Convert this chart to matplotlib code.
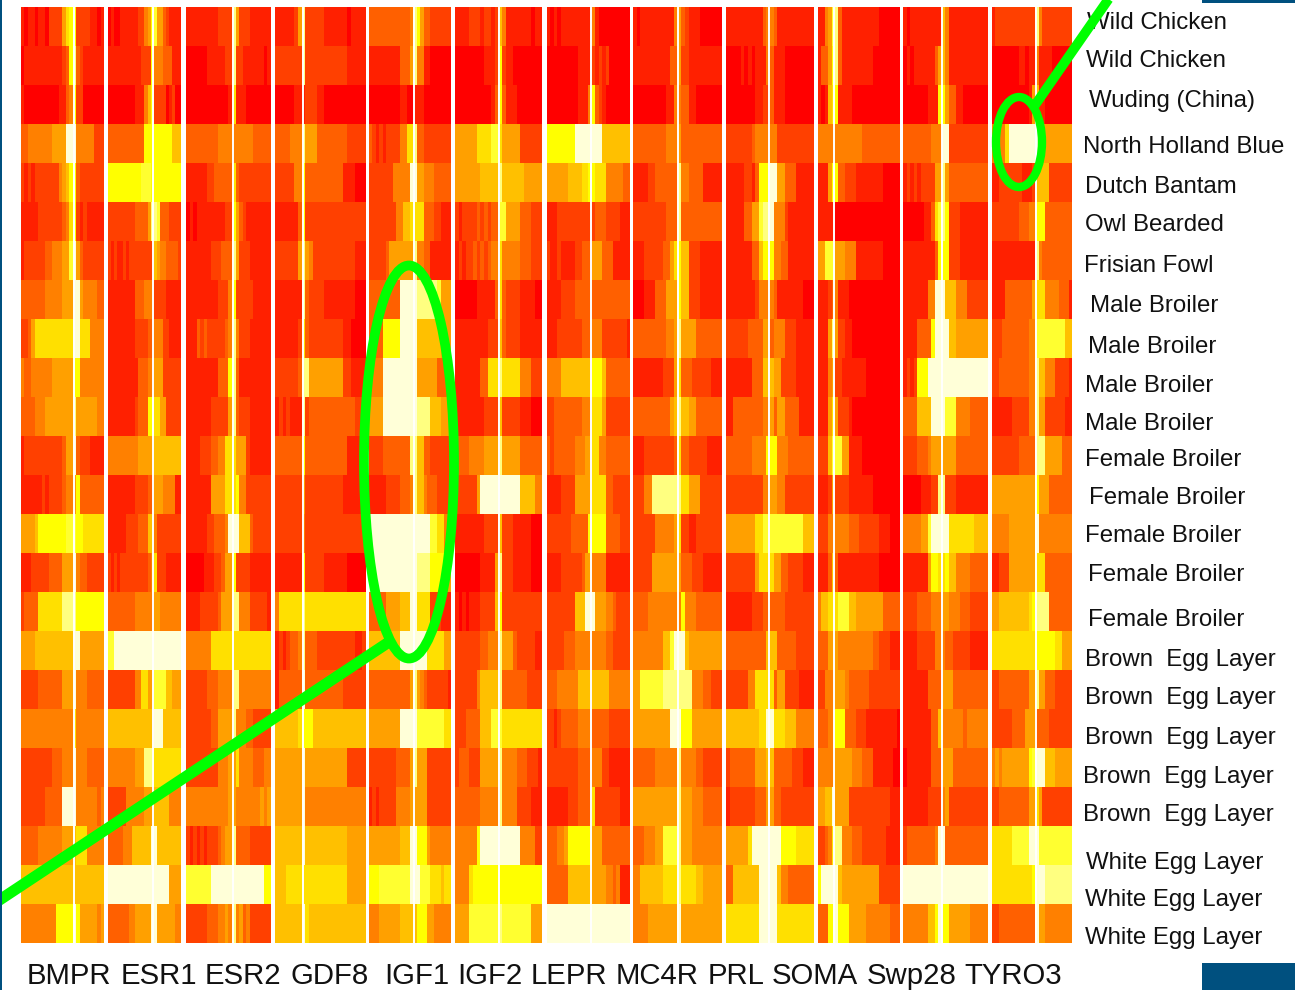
import numpy as np
import matplotlib
matplotlib.use("Agg")
import matplotlib.pyplot as plt
from matplotlib.colors import ListedColormap, BoundaryNorm
from matplotlib.patches import Ellipse, Rectangle

plt.rcParams['font.family'] = ['Liberation Sans', 'DejaVu Sans']

genes = ["BMPR", "ESR1", "ESR2", "GDF8", "IGF1", "IGF2", "LEPR", "MC4R", "PRL", "SOMA", "Swp28", "TYRO3"]
breeds = ["Wild Chicken", "Wild Chicken", "Wuding (China)", "North Holland Blue", "Dutch Bantam", "Owl Bearded",
          "Frisian Fowl", "Male Broiler", "Male Broiler", "Male Broiler", "Male Broiler", "Female Broiler",
          "Female Broiler", "Female Broiler", "Female Broiler", "Female Broiler", "Brown  Egg Layer",
          "Brown  Egg Layer", "Brown  Egg Layer", "Brown  Egg Layer", "Brown  Egg Layer", "White Egg Layer",
          "White Egg Layer", "White Egg Layer"]

# level 0 = red ... 8 = yellow, a/b = pale. "3*4" means level 3 over 4 columns
bmpr = ["1 0 1 1 0 1 1 0 2*4 5 7 8 8 2*4 1 1 0 1", "0 1*11 2 3 8 a 3 2 1*6", "1 0*10 1 1 3 4 8 2 2 0*6",
        "3*2 4*7 5*4 b*3 4*5 2*3", "2 1 2 1 2*7 4 5 6 8 8 3 2 2*6", "1*5 2 2*6 3 4 7 8 2 1 2 1*5",
        "1 2 2*5 3*2 4*3 5*2 9 b 5 3 2*6", "3*7 4*5 5*3 b*2 5 4*4 3*2", "2 2 3 5 7*11 b*2 7*3 4*4",
        "4 3 3 4 4*5 5*6 8*2 4*7", "3*4 4*3 5*8 a 5*6 4*2", "1 2*11 3 5*2 b 3 2*3 1*4",
        "1*6 2 1 2*4 3 4 4 5 8 3*7", "5*4 6 8*8 9*3 8*2 7*6", "1*3 2*5 3*4 5*3 b 4 3*2 2*5",
        "2 3*4 7*7 a*4 8*8", "5*4 6*11 b*2 5*7", "2*5 3*7 5*3 b 4*3 3*5", "4*15 7 4*8", "2*9 3*3 4*3 b 4*3 3*5",
        "2*7 3*5 b*4 4*6 3 4", "3*5 4*7 5*3 6 7*3 4*5", "6*24", "4*10 8*5 b 8 5*5 4 5"]
esr1 = ["0 1 0 0 1*6 2*2 4 5 8 9 5*2 3 2 1*4", "1*11 2*3 8 4*3 3*3 1*3", "0*9 1*3 4 6 8 2 2*3 0 1 2 0*2",
        "3*12 8*3 8*6 6*3", "8*11 9*3 8*10", "2*9 3*4 5 a a 9 3*3 2*4", "2 1 2 1 1 2 1 2 2 2*6 6 5 4*2 3*4 2",
        "1*9 3*3 4*3 2*4 1*5", "1*9 2*4 3*2 4*3 2*2 1*4", "1*10 3*3 4*2 5*3 2*6", "1*9 2 3*3 8*2 7*2 5*2 2*5",
        "4*10 5*5 6*9", "1*9 2*4 3*2 5*3 4*4 1*2", "1*6 2*4 3*3 6*2 4 2*8", "2 1 2 1 2 2*8 3 4 7 2*3 1*5",
        "3*9 4*6 5*2 4*7", "9*2 b*22", "2*9 4*2 7*2 5*2 9*4 6*2 5*3", "6*15 b*3 6*6", "4*9 5*3 a*3 7*9",
        "2*6 4*6 5*3 6*5 4*4", "3*5 4*3 6*6 b*2 6*8", "b*20 5*4", "3*7 4*2 5*5 b*2 5*6 4*2"]
esr2 = ["1*9 2*4 a 5 2*3 1*6", "0*6 1*5 2*2 a 2*2 1*6 0 1", "0*12 1 7 1*2 1 0*7", "3*9 4*5 4*5 3*5",
        "1*6 2*2 3*5 7 3 2 2*8", "0 1 0 1 1*7 2*2 8 5 3 2 1*7", "1*7 2*3 3*3 a 5 2*3 1*6", "1*9 2*3 4 8 2*5 1*5",
        "1*3 3 2 3 2*5 3 4 a 4 2*3 1*6", "1*9 3*3 8 a 3 1*3 1*6", "1*7 2*5 5 a 3 2*3 1*6",
        "1*4 2*3 3*2 4*2 7*3 5*3 2 1*6", "1*7 5*2 5*2 7*3 8 4*2 2*7", "1*6 2*2 3*3 4 b*3 6*3 3 2*5",
        "0*5 1*3 2*2 3 5*2 8 2 2*3 1*6", "1*4 2*5 3 5*3 a*2 4*3 2*5 1", "4*7 7*7 7*10", "2*6 3*3 4*4 a*2 4*9",
        "2*7 3*2 5*4 a 4*3 3*2 2*5", "2*9 4*3 5*2 7 4*4 3*3 4*2", "4*12 5*2 4*7 5 4 5", "2 1 2 1 2 1 2*3 3 4 5 5 a 3*4 2*6",
        "9*7 b*15 8*2", "2*6 3*3 4 4 5 4 a 4 5 3 4 2*6"]
gdf8 = ["1*5 2 5 a 2*5 1*6 0 1*4", "2*7 a 2*11 1*5", "0*5 1*3 2*3 1*2 0*11", "3*4 4*3 a 5*3 3*8 2*5",
        "2*5 4*2 8 3*10 1*3 0*3", "1*6 3 8 2*16", "2*6 5 a 5 4 2*11 1*3", "1*7 a 3 2*4 1*8 0*3",
        "1*6 2 7 3 2*9 1*2 0*4", "2*6 3 a*2 5*9 2*2 1*4", "1 2 1 2 1*3 a 2 3*12 2*3", "3*2 3*4 3 8 3*11 1*5",
        "2*7 5 2*10 1*2 1*4", "2*7 4 2*16", "1*7 8 2*5 1*6 0*5", "4 7*6 a 7*16", "1 2 1 2 3*2 4 a 3*3 2*10 1 1 2",
        "1 3*6 b 3*7 3*3 2*6", "6*6 7 8 8*2 6*14", "5*7 b 5*11 2*5", "5*7 b 4*16", "6*7 b 6*11 5*5",
        "6*3 7*4 7 7*11 5*5", "6*7 b 7 6*15"]
igf1 = ["3*12 4 a 8 5 3*2 2*6", "1*9 3*3 5 a 4*2 1*2 0*6", "0*9 1*2 0*2 1 1*2 0*8", "3 2 1 2 1 2*4 4*2 7*2 a 3*2 2*8",
        "2*7 4*5 b*2 5*2 4*3 3*5", "2*8 4*2 6*2 7*2 7*2 3*3 2*2 1*3", "2*5 3 5*7 a 4*2 3*2 1*6", "3*9 b*5 a*6 9 5*3",
        "3*4 8*5 b*5 6*7 5*3", "4*4 b*10 5*6 3*4", "5*4 b*10 a*4 6*3 5*3", "2*4 3*8 a*2 6*2 3*2 2*6",
        "1*5 2*4 3*3 4 a 6*2 4 3*3 2*4", "b*18 9*2 7*2 4*2", "b*14 a*4 8*4 5*2", "3*5 5*4 6*3 b*2 7*4 2*3 1*3",
        "6*9 b*8 7*5 5*2", "3*12 5 a 5 4 3 2*6 1", "5*9 b*5 9*8 7*2", "2*8 3*4 5 a 5*3 2*7", "1 2 1 2 2*4 4*4 5*2 5*3 2*7",
        "5*9 6*3 b*2 8*3 5 4*6", "8*3 9*9 b*3 9*3 7*3 6 7*2", "4*3 5*6 6*5 8*3 5*2 4*5"]
igf2 = ["1*4 2*3 1 2 2 1 2 6 4 1*7 0 1*2", "0*8 1*3 2 8 2 1*2 0*8", "0*10 1 3 8 3 1*3 0*7", "5*6 7*4 9*2 7 5*5 2*6",
        "5*7 6*5 a 6*6 5*5", "2 1 2 2*3 3 2 3 2 3*2 9*2 5*4 3*3 2*3", "1 2 1 2 2 3 2 3 2 3 4*2 7 4*5 3*3 2*3",
        "0*6 1*5 3 7 3 2*4 1*4 0*2", "1*9 2*3 6 3 2*4 1*6", "1*7 3*2 7*3 a 7*5 4*3 2*3", "1*8 2*4 6 2*5 1*3 0*3",
        "3*4 4*4 5*4 a 5*5 3*6", "2*6 5 b*5 b*6 6*4 4*2", "1*8 2*4 6 2*3 1*5 0*3", "0*7 1*4 5 a 2*3 1*5 0*3",
        "1 0 1 0 1*3 2*4 6 8 2*11", "2*7 3*2 4*3 a 5*3 3 2*5 1*2", "2*6 4 6*5 a 3*7 2*4", "2*3 3*4 6*3 9*3 7*11",
        "2 3*3 2*3 5*5 a 4*4 3*3 2*3 1", "3*7 4*5 a 4*4 2*4 1*3", "4*6 8 b*11 4*4 2*2", "4*4 7 8*19", "5*4 9*8 a 9*8 5*3"]
lepr = ["1 0 1 0 1*8 1 4 1 0*9", "0*9 1*4 2 1 2 1 2 0*6", "0*9 1*2 1 4 8 3 2 1 0*7", "8*8 b*8 6*8",
        "5*6 6*4 7*2 8*2 7*3 4*5 3*2", "1*3 2*9 2*2 3*3 2*4 1*3", "2 1 1 2 1*4 2*2 3*3 5*3 3*3 1*5", "1*4 2*4 3*5 3*11",
        "1*3 2*7 3*3 4*3 2*7 1", "4*4 6*9 8*3 6 3*6 3", "2*2 3*8 4*3 7*3 5 2*7", "3 2 3 3*5 4*3 5*2 7*2 4*2 3*7",
        "1*4 2*4 5*4 5 7*4 3*2 2*5", "2*7 3*5 8 8*4 3*4 2*3", "1*4 2*6 3 5*2 4*4 1*7", "2*8 6*3 b*3 5*3 4*2 3 2*4",
        "2*5 3*3 4*5 4*4 3*2 2*5", "3*3 4*6 6*4 6*5 4*6", "2 2 1 2 3*5 4*4 3*5 2*6", "2*9 3*4 4*3 2*2 1*6",
        "1*6 2*3 3*4 7 2*7 1*3", "3*3 4*2 5 8*7 5*3 3*8", "3*6 6*7 5*4 4*2 3 4 1*3", "b*24"]
mc4r = ["1 0 1 1*8 4 5 3 2 1*3 0*6", "1*10 3*2 5 2*2 1*9", "0*9 1*2 4 4 3 3 1*2 0*7", "3*9 4*2 4 5 3*11",
        "1*4 2*2 3*6 a 4*2 3*4 1*5", "2*9 3*3 a 3*11", "1*3 2*5 3*2 5 7 8 6*2 2*3 1*6", "0*3 1*3 3*3 5*3 8 6*2 2*3 1*6",
        "3*9 4*2 5 a 5*4 3*7", "1*8 2*3 5 7 3*3 2*5 1*3", "3*10 5 6 a 6*2 5*2 3*7", "1*3 2*8 3 7 3*2 2*5 1*4",
        "2*3 4*2 a*8 7*2 5*3 2*6", "2*6 4*5 5 7 2*2 1*2 2*7", "2*5 5*7 5 3*3 2*3 1*5", "3*4 4*8 4 8 4*3 3*7",
        "4*8 6*2 9 b*3 6 5*9", "5*2 9*6 a*8 4*3 3*2 2*3", "5*10 b*3 8*3 5*8", "3*6 4*6 a 4*4 3*2 2*5",
        "5*12 a 5*3 4*3 3*5", "3*3 4*3 5*2 9*4 a 5*3 4*8", "4*2 6*6 7*4 a 7*4 6*2 5*5", "4*4 5*8 b 5*11"]
prl = ["1*10 3 4 4 3 1*10", "0*4 1 0 1 0 1*3 4 3 1 1*2 0*8", "0*8 1*2 2*2 3 1*3 0*8", "2*7 3 4*4 4*2 2*10",
       "1*5 2*2 1 3 8*3 b*2 5*2 3*3 1*5", "1*5 3*2 5 5 9 a*2 b 4*3 2 1*7", "1*7 3*2 6 8*3 4*2 3*2 1*7",
       "1*8 2 4*3 4 3 1*7 0*3", "2*6 3*4 5*2 3 4*3 2*3 1*5", "1*7 3*3 6*3 5*2 2*4 1*5", "1*2 3*8 4*2 5 3 5*2 3*4 1*4",
       "3*7 4*4 8*3 4*3 3*7", "2*10 4*2 5*2 4*2 2*8", "5*8 7*2 9*11 6*3", "2*8 5 7*4 5*2 3*2 2*4 1*3",
       "1*7 2*3 3*2 3*4 2*8", "3*11 6*3 3*5 2*5", "2*6 4*2 7*3 7*2 3 5*2 2*4 1*4", "6*9 7*2 b*2 7*3 6*3 4*5",
       "2 3*7 5*3 6*2 3*2 3*3 2*3 1*3", "1 2*7 3*3 5*2 3*2 2*9", "5*6 7 b*8 8*4 7*5", "3*2 6*7 b*5 6 4*2 3*7", "7*9 b*5 7*10"]
soma = ["1*2 4 5 9 a 3 1*11 0*6", "1 3*2 5 8 a 3 1*9 0*8", "1 0 1 6 7 8 1*4 0*14", "4*13 3*11", "1*3 5 8*2 3*2 2*3 1*4 1*4 0*5",
        "1*5 0*19", "5*2 9*3 5*3 4*3 1*8 0*5", "1*3 2 3 4 1*3 0*15", "1*3 5 a 5 2*2 1*2 0*14", "1*3 4 5 2*2 1*7 0*10",
        "1*3 5 7 5 2*3 1 0*14", "2*3 6 9*3 5*2 1*4 0*11", "1*3 2 5 2*4 1*7 0*8", "2*3 4*2 4*4 3*3 2*6 1*3 0*3",
        "1*3 3 6 3 1*12 0*6", "4 6*2 7*3 9*3 6*2 5*8 3*5", "3*3 5*3 4*10 3*2 2*3 1*3", "2*2 4*3 5*3 4 3*6 2*9",
        "3*3 4*2 8*3 3*3 2*3 1*9 0", "4*5 5*5 4*3 3*3 1*6 0*2", "5*2 6*2 b 5*4 2*12 1*3", "2*2 3 4 7 a*2 4*3 3*3 2*7 1*4",
        "8 b*5 6 5*11 2*6", "3*3 8*2 b 8*3 5*5 4*7 3*3"]
swp28 = ["1 0 1 1*8 6 4 1*11", "0 1 0 1*6 3 5 6 4 1*11", "0*7 1*3 8*2 5 3*2 1*2 0*7", "3*8 4*3 b*2 2*11",
         "1 2 1 2 1 2 2*3 5*2 a 5 3*11", "0*6 1*2 3 7 9 a 8 2*3 1*8", "1*9 3 8*3 2*3 1*8", "1*7 4*2 b*3 6*3 4*3 2*6",
         "1*4 3*4 8 b*4 6*2 5*9", "1 2 1 2 8*3 b*17", "3*4 6*4 b*4 9*3 4*4 3*5", "2*4 3*3 4 5*3 5*4 3*9",
         "0*5 1*3 2*2 a*2 2*3 1*9", "4*5 5*2 9 b*5 7*7 6*4", "1*7 5 8*2 7*2 8 6*2 4*4 3*5", "2*4 3*4 4*3 5*2 4*3 3*3 2*5",
         "1*4 2*5 4*3 3*2 2*5 1*5", "1*7 3*4 5 5*2 3*10", "1*8 3*2 6 4*6 3 4*6", "0 1 1*6 3*3 5*3 3*10",
         "1*7 2*4 4 5 2*11", "2 3*7 3 4 b*2 3*12", "b*24", "4*7 6*2 8 b 8*2 5*6 4*5"]
tyro3 = ["1 2*12 a 4 2*9", "0*8 1*2 0 1*2 4 1*4 0*6", "0*11 1 5 6 1*2 0*8", "4*4 7 b*8 b 5*2 5*8",
         "1*2 2*7 1*3 2 6*4 2*7", "2*8 3*3 4*2 8*3 3*8", "1*9 1*4 a 4 3*9", "1*4 3*8 5 7*3 4*4 3*3 1",
         "2*3 3*8 4*2 9*9 6*2", "2*2 3*9 4*2 a 6*2 4*3 2*4 1", "1*6 2*5 4*2 a 5*2 2*6 1*2", "2*8 3*5 a*3 5*5 3*3",
         "5*13 8 5*3 3*7", "4*5 5*8 b 4*10", "1*2 2*3 5*6 5*2 7 7*2 3*8", "5*2 6*9 7 8 a*4 3*7",
         "7*13 8*6 7*2 5*3", "2*2 3*9 5*2 a 5*2 3*3 2*5", "2*6 3*4 5*3 3*4 2*7", "4 5 4 5*8 8 9 b*3 6*3 5*5",
         "2*2 3*9 5*2 7 5 2*9", "7*6 9*5 b*3 9*10", "7*12 8 b*3 a*8", "2*2 3*11 b 5*2 4*8"]
all_rows = [bmpr, esr1, esr2, gdf8, igf1, igf2, lepr, mc4r, prl, soma, swp28, tyro3]

level_colors = ["#ff0000", "#ff2000", "#ff4000", "#ff6000", "#ff8000", "#ffa000", "#ffc000", "#ffe000",
                "#ffff00", "#ffff30", "#ffff80", "#ffffd8"]

# block layout in picture pixels
block_left = [21, 108.3, 186, 275, 369.3, 455.3, 547, 633.3, 725.7, 817.7, 903.3, 992.3]
block_right = [103.3, 181, 271, 365.3, 451, 542, 629.3, 721.7, 813.7, 899.3, 988.3, 1072.3]
inner_line = [74, 152.7, 232.7, 303, 414.3, 499.3, 590.7, 678.3, 769.3, 834.3, 942.3, 1035.7]
top, bottom = 7.5, 942.7
NCOL = 24


def expand(row):
    out = []
    for tok in row.split():
        if "*" in tok:
            ch, n = tok.split("*")
            out += [int(ch, 16)] * int(n)
        else:
            out.append(int(tok, 16))
    out = out[:NCOL]
    out += [out[-1]] * (NCOL - len(out))
    return out


fig = plt.figure(figsize=(12.95, 9.9), dpi=100)
ax = fig.add_axes([0, 0, 1, 1])

cmap = ListedColormap(level_colors)
norm = BoundaryNorm(np.arange(-0.5, 12.5), cmap.N)
for g, rows in enumerate(all_rows):
    mat = np.array([expand(r) for r in rows])
    ax.imshow(mat, cmap=cmap, norm=norm, aspect="auto", interpolation="nearest",
              extent=[block_left[g], block_right[g], bottom, top], zorder=1)
    ax.plot([inner_line[g], inner_line[g]], [top, bottom], color="white", lw=1.4, zorder=2)

ax.set_xlim(0, 1295)
ax.set_ylim(990, 0)
ax.axis("off")

gene_x = [27, 121, 205, 290, 384, 457, 531, 616, 708, 772, 867, 964]
for name, x in zip(genes, gene_x):
    ax.text(x, 976, name, fontsize=21.2, ha="left", va="center", color="#111111", zorder=3)

breed_x = [1087, 1086, 1089, 1083, 1085, 1085, 1084, 1090, 1088, 1085, 1085, 1085, 1089, 1085, 1088, 1088,
           1085, 1085, 1085, 1083, 1083, 1086, 1085, 1085]
breed_y = [23, 61, 101, 147, 187, 225, 266, 306, 347, 386, 424, 460, 498, 536, 575, 620,
           660, 698, 738, 777, 815, 863, 900, 938]
for name, x, y in zip(breeds, breed_x, breed_y):
    ax.text(x, y, name, fontsize=17.3, ha="left", va="center", color="#111111", zorder=3)

# green highlights
green = "#00ff00"
ax.add_patch(Ellipse((409, 462), 90, 393, fill=False, edgecolor=green, lw=7, zorder=4))
ax.add_patch(Ellipse((1019, 142), 46, 90, fill=False, edgecolor=green, lw=6, zorder=4))
ax.plot([-5, 392], [903, 640], color=green, lw=8, solid_capstyle="butt", zorder=4)
ax.plot([1033, 1110], [108, -3], color=green, lw=7, solid_capstyle="butt", zorder=4)

# slide furniture
navy = "#00507f"
ax.add_patch(Rectangle((0, 0), 1.5, 990, color=navy, lw=0, zorder=5))
ax.add_patch(Rectangle((1202, 0), 93, 3, color=navy, lw=0, zorder=5))
ax.add_patch(Rectangle((1202, 963), 93, 27, color=navy, lw=0, zorder=5))

fig.savefig("out.png", dpi=100)
